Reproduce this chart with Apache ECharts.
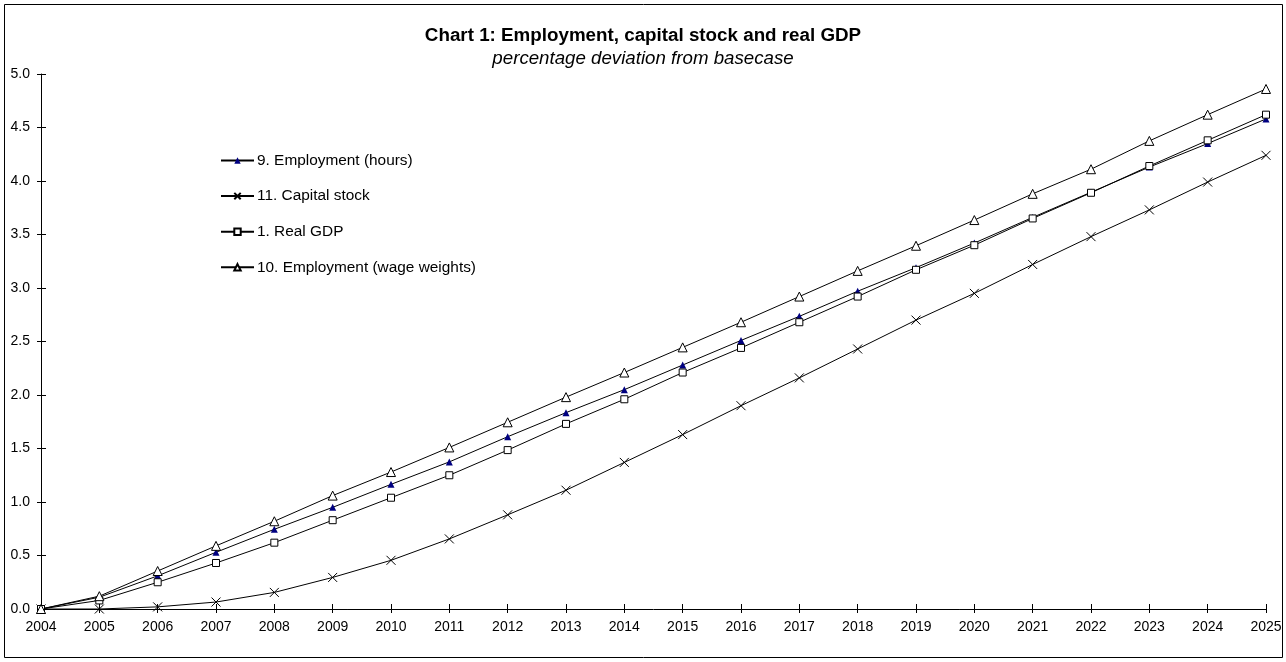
<!DOCTYPE html>
<html>
<head>
<meta charset="utf-8">
<script src="https://cdn.jsdelivr.net/npm/echarts@6/dist/echarts.min.js"></script>
<style>
  html, body { margin: 0; padding: 0; background: #fff; }
  #myechart { width: 1286px; height: 662px; }
</style>
</head>
<body>
<div id="myechart"></div>
<script>
  // data
  const years = ['2004', '2005', '2006', '2007', '2008', '2009', '2010', '2011', '2012', '2013', '2014',
    '2015', '2016', '2017', '2018', '2019', '2020', '2021', '2022', '2023', '2024', '2025'];
  const empHours = [0, 0.11, 0.31, 0.53, 0.745, 0.95, 1.165, 1.375, 1.61, 1.835, 2.05,
    2.28, 2.51, 2.735, 2.97, 3.19, 3.42, 3.66, 3.895, 4.13, 4.35, 4.58];
  const capitalStock = [0, 0, 0.02, 0.065, 0.155, 0.295, 0.455, 0.655, 0.88, 1.11, 1.37,
    1.63, 1.9, 2.16, 2.43, 2.7, 2.95, 3.22, 3.48, 3.73, 3.99, 4.24];
  const realGdp = [0, 0.08, 0.25, 0.43, 0.62, 0.83, 1.04, 1.25, 1.485, 1.73, 1.96,
    2.21, 2.44, 2.68, 2.92, 3.17, 3.4, 3.65, 3.89, 4.14, 4.38, 4.62];
  const empWage = [0, 0.12, 0.355, 0.59, 0.82, 1.06, 1.28, 1.51, 1.745, 1.98, 2.21,
    2.445, 2.68, 2.92, 3.16, 3.395, 3.635, 3.88, 4.11, 4.375, 4.62, 4.86];

  const crossPath = 'path://M0,0L10,10M10,0L0,10';
  const font = 'Liberation Sans, Arial, sans-serif';

  let chart = echarts.init(document.getElementById('myechart'));
  let option = {
    animation: false,
    backgroundColor: '#fff',
    textStyle: { fontFamily: font, color: '#000' },
    title: {
      text: 'Chart 1: Employment, capital stock and real GDP',
      subtext: 'percentage deviation from basecase',
      left: 'center',
      top: 26,
      itemGap: 4,
      padding: 0,
      textStyle: { fontFamily: font, fontSize: 18.8, fontWeight: 'bold', color: '#000', lineHeight: 19 },
      subtextStyle: { fontFamily: font, fontSize: 18.7, fontStyle: 'italic', color: '#000', lineHeight: 19 }
    },
    graphic: [{
      type: 'rect',
      shape: { x: 4.5, y: 4.5, width: 1278, height: 653 },
      style: { fill: 'none', stroke: '#000', lineWidth: 1 },
      silent: true
    }],
    legend: {
      orient: 'vertical',
      left: 220,
      top: 153,
      padding: 0,
      itemWidth: 33,
      itemHeight: 8,
      itemGap: 20.6,
      textStyle: { fontFamily: font, fontSize: 15.4, color: '#000', padding: [0, 0, 0, -2] },
      data: ['9. Employment (hours)', '11. Capital stock', '1. Real GDP', '10. Employment (wage weights)']
    },
    grid: { left: 41, right: 20, top: 74, bottom: 53 },
    xAxis: [{
      type: 'category',
      data: years,
      boundaryGap: false,
      axisLine: { lineStyle: { color: '#000', width: 1 } },
      axisTick: { inside: false, length: 4, lineStyle: { color: '#000' } },
      axisLabel: { fontFamily: font, fontSize: 14, color: '#000', margin: 11 },
      splitLine: { show: false }
    }, {
      type: 'category',
      data: years,
      boundaryGap: false,
      position: 'bottom',
      axisLine: { show: false },
      axisTick: { inside: true, length: 5, lineStyle: { color: '#000' } },
      axisLabel: { show: false },
      splitLine: { show: false }
    }],
    yAxis: [{
      type: 'value',
      min: 0,
      max: 5,
      interval: 0.5,
      axisLine: { show: true, lineStyle: { color: '#000', width: 1 } },
      axisTick: { show: true, inside: false, length: 4, lineStyle: { color: '#000' } },
      axisLabel: { fontFamily: font, fontSize: 14, color: '#000', margin: 11, formatter: v => v.toFixed(1) },
      splitLine: { show: false }
    }, {
      type: 'value',
      min: 0,
      max: 5,
      interval: 0.5,
      position: 'left',
      axisLine: { show: false },
      axisTick: { show: true, inside: true, length: 5, lineStyle: { color: '#000' } },
      axisLabel: { show: false },
      splitLine: { show: false }
    }],
    series: [{
      name: '9. Employment (hours)',
      type: 'line',
      data: empHours,
      symbol: 'triangle',
      symbolSize: 7,
      showAllSymbol: true,
      lineStyle: { color: '#000', width: 1 },
      itemStyle: { color: '#000080', borderColor: '#000080', borderWidth: 0 }
    }, {
      name: '11. Capital stock',
      type: 'line',
      data: capitalStock,
      symbol: crossPath,
      symbolSize: 9,
      showAllSymbol: true,
      lineStyle: { color: '#000', width: 1 },
      itemStyle: { color: '#000', borderColor: '#000', borderWidth: 1 }
    }, {
      name: '1. Real GDP',
      type: 'line',
      data: realGdp,
      symbol: 'rect',
      symbolSize: 7,
      showAllSymbol: true,
      lineStyle: { color: '#000', width: 1 },
      itemStyle: { color: '#fff', borderColor: '#000', borderWidth: 1 }
    }, {
      name: '10. Employment (wage weights)',
      type: 'line',
      data: empWage,
      symbol: 'triangle',
      symbolSize: 9,
      showAllSymbol: true,
      lineStyle: { color: '#000', width: 1 },
      itemStyle: { color: '#fff', borderColor: '#000', borderWidth: 1 }
    }]
  };
  chart.setOption(option);
</script>
</body>
</html>
